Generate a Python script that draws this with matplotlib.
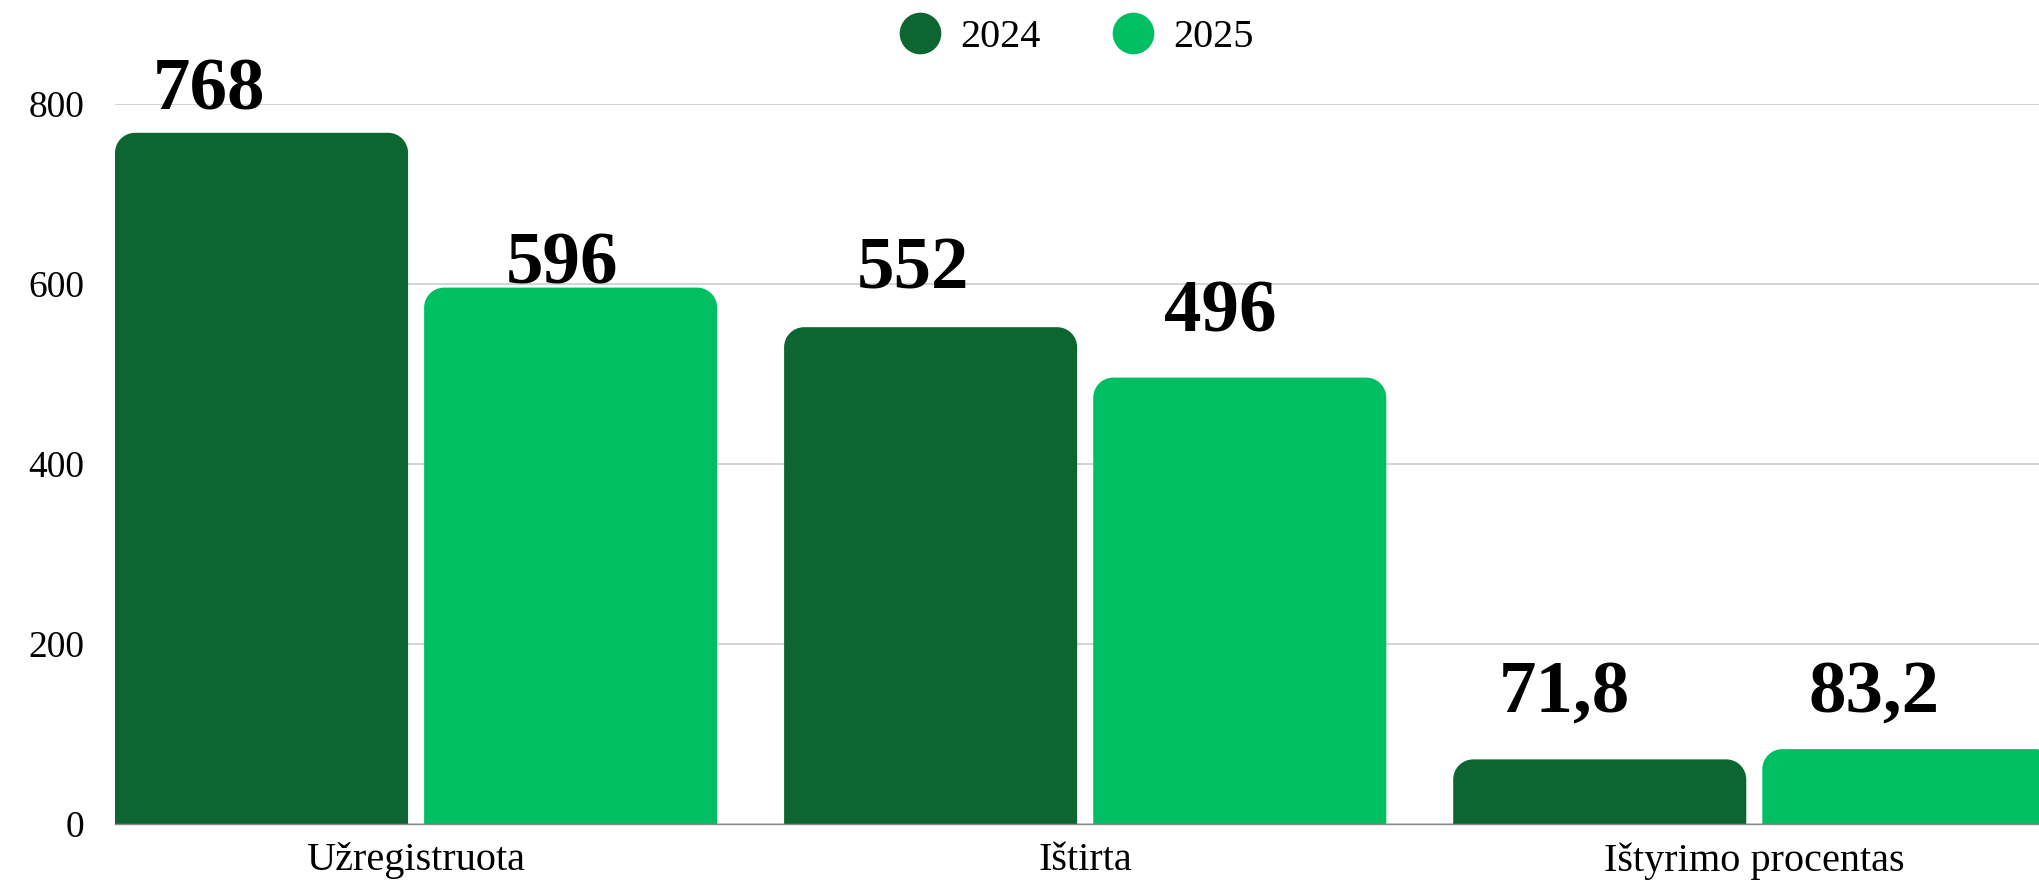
import matplotlib.pyplot as plt
import numpy as np
from matplotlib.path import Path
from matplotlib.patches import PathPatch
from matplotlib.lines import Line2D

plt.rcParams['font.family'] = ['Liberation Serif', 'DejaVu Serif']

categories = ["Užregistruota", "Ištirta", "Ištyrimo procentas"]
series_names = ["2024", "2025"]
values_2024 = [768, 552, 71.8]
values_2025 = [596, 496, 83.2]

colors = ["#0d6632", "#00bf63"]
width = 0.438
shift = 0.231
# label nudges in pixels (dx, dy above bar top)
label_nudge_2024 = [(-53, 23), (-18, 39), (-35, 48)]
label_nudge_2025 = [(-9, 4), (-20, 46), (-35, 38)]


def fmt(v):
    if float(v).is_integer():
        return str(int(v))
    return str(v).replace(".", ",")


def round_top(ax, rect, color, rpx=20):
    # swap a plain bar for one with rounded top corners
    x0, y0 = rect.get_x(), rect.get_y()
    x1, y1 = x0 + rect.get_width(), y0 + rect.get_height()
    rx = rpx / 669.0
    ry = rpx / 0.9
    k = 0.5523
    verts = [(x0, y0), (x0, y1 - ry),
             (x0, y1 - ry + k * ry), (x0 + rx - k * rx, y1), (x0 + rx, y1),
             (x1 - rx, y1),
             (x1 - rx + k * rx, y1), (x1, y1 - ry + k * ry), (x1, y1 - ry),
             (x1, y0), (x0, y0)]
    codes = [Path.MOVETO, Path.LINETO,
             Path.CURVE4, Path.CURVE4, Path.CURVE4,
             Path.LINETO,
             Path.CURVE4, Path.CURVE4, Path.CURVE4,
             Path.LINETO, Path.CLOSEPOLY]
    rect.set_visible(False)
    ax.add_patch(PathPatch(Path(verts, codes), facecolor=color, edgecolor="none", zorder=3))


fig = plt.figure(figsize=(20.4, 8.81), dpi=100)
ax = fig.add_axes([115 / 2040, 57 / 881, 1 - 115 / 2040, (824 - 104) / 881])

x = np.arange(len(categories))
for vals, off, col, nudges in [(values_2024, -shift, colors[0], label_nudge_2024),
                               (values_2025, shift, colors[1], label_nudge_2025)]:
    bars = ax.bar(x + off, vals, width, color=col)
    for rect, v, (dx, dy) in zip(bars, vals, nudges):
        round_top(ax, rect, col)
        ax.annotate(fmt(v), (rect.get_x() + rect.get_width() / 2, rect.get_height()),
                    xytext=(dx, dy), textcoords="offset pixels", ha="center", va="baseline",
                    fontsize=54, fontweight="bold", color="black", zorder=5,
                    annotation_clip=False)

ax.set_xlim(-0.45, 2.427)
ax.set_ylim(0, 800)
ax.set_yticks([0, 200, 400, 600, 800])
ax.set_xticks(x)
ax.set_xticklabels(categories)
ax.tick_params(axis="y", length=0, pad=22, labelsize=27)
ax.tick_params(axis="x", length=0, pad=13, labelsize=29)
ax.grid(axis="y", color="#cccccc", linewidth=1.2, zorder=0)
ax.set_axisbelow(True)
for s in ["top", "right", "left"]:
    ax.spines[s].set_visible(False)
ax.spines["bottom"].set_color("#8c8c8c")
ax.spines["bottom"].set_linewidth(1.0)
ax.spines["bottom"].set_zorder(4)

handles = [Line2D([], [], marker="o", linestyle="none", markersize=30,
                  markerfacecolor=c, markeredgecolor="none") for c in colors]
fig.legend(handles, series_names, loc="center", bbox_to_anchor=(1077 / 2040, 1 - 37 / 881),
           ncol=2, frameon=False, fontsize=29, handlelength=1.0, handletextpad=0.5,
           columnspacing=1.8)

fig.savefig("out.png", dpi=100)
